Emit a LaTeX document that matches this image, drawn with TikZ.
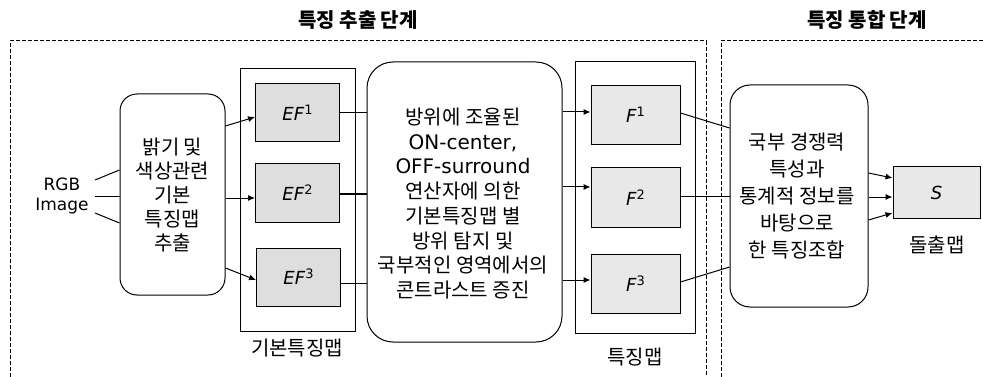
\documentclass[tikz,border=0pt]{standalone}
\usepackage{fontspec}
\setmainfont{Noto Sans CJK KR}
\newfontfamily\dv{DejaVu Sans}
\usetikzlibrary{arrows.meta}
\tikzset{
  every picture/.style={line width=1pt},
  txt/.style={inner sep=0pt, font=\fontsize{20}{24.5}\selectfont, align=center},
  rbox/.style={draw, rounded corners=#1, inner sep=0pt, align=center},
  mapbox/.style={draw, inner sep=0pt},
  efbox/.style={draw, fill=black!13, minimum width=84pt, minimum height=58pt, inner sep=0pt},
  fbox/.style={draw, fill=black!9, minimum width=89pt, minimum height=59pt, inner sep=0pt},
  arr/.style={-{Latex[length=7pt,width=6pt]}},
  zone/.style={dash pattern=on 4pt off 2pt, line width=1pt},
  ttl/.style={inner sep=0pt, font=\fontsize{20}{22}\selectfont\bfseries},
}
\newcommand{\efl}[1]{{\dv\fontsize{18}{18}\selectfont\textit{EF}\raisebox{6pt}{\fontsize{13}{13}\selectfont #1}}}
\newcommand{\fl}[1]{{\dv\fontsize{18}{18}\selectfont\textit{F}\raisebox{6pt}{\fontsize{13}{13}\selectfont #1}}}
\begin{document}
\begin{tikzpicture}[x=1pt,y=-1pt]
\useasboundingbox (0,0) rectangle (983,377);
% zones
\draw[zone] (10,377) -- (10,41) -- (706,41) -- (706,377);
\draw[zone] (983,41) -- (721,41) -- (721,377);
\node[ttl] (t1) at (358,20) {특징 추출 단계};
\node[ttl] (t2) at (867,20) {특징 통합 단계};
% input
\node[txt, font=\dv\fontsize{17}{19.5}\selectfont] (rgb) at (62,196) {RGB\\Image};
\coordinate (i1) at (95,180);
\coordinate (i2) at (95,196);
\coordinate (i3) at (95,213);
% left box
\node[rbox=17pt, minimum width=105pt, minimum height=201pt] (lb) at (172.5,194.5) {};
\node[txt, font=\fontsize{20}{24}\selectfont] (lbt) at (172.5,195) {밝기 및\\색상관련\\기본\\특징맵\\추출};
% EF group
\node[mapbox, minimum width=115pt, minimum height=262pt] (efg) at (297.5,200) {};
\node[efbox] (ef1) at (297.5,113) {\efl{1}};
\node[efbox] (ef2) at (297.5,193) {\efl{2}};
\node[efbox] (ef3) at (298.5,277) {\efl{3}};
\node[txt] (efgl) at (297,348) {기본특징맵};
% middle box
\node[rbox=26pt, minimum width=195pt, minimum height=280pt] (mb) at (464.5,202) {};
\node[txt, font=\fontsize{20}{24.7}\selectfont] (mbt) at (463,203.5) {방위에 조율된\\{\dv ON-center,}\\{\dv OFF-surround}\\연산자에 의한\\기본특징맵 별\\방위 탐지 및\\국부적인 영역에서의\\콘트라스트 증진};
% F group
\node[mapbox, minimum width=120pt, minimum height=271pt] (fg) at (635,197.5) {};
\node[fbox] (f1) at (635.5,115) {\fl{1}};
\node[fbox] (f2) at (635.5,197.5) {\fl{2}};
\node[fbox] (f3) at (635.5,284) {\fl{3}};
\node[txt] (fgl) at (635,357) {특징맵};
% right box
\node[rbox=20pt, minimum width=138pt, minimum height=222pt] (rb) at (799,196) {};
\node[txt, font=\fontsize{20}{27}\selectfont] (rbt) at (797,196) {국부 경쟁력\\특성과\\통계적 정보를\\바탕으로\\한 특징조합};
% saliency
\node[draw, fill=black!9, minimum width=87pt, minimum height=51pt, inner sep=0pt] (s) at (936.5,192.5) {{\dv\fontsize{18}{18}\selectfont\textit{S}}};
\node[txt] (sl) at (937,245) {돌출맵};
% connectors
\draw (i1) -- (lb.west |- 0,170);
\draw (i2) -- (lb.west |- 0,196);
\draw (i3) -- (lb.west |- 0,223);
\draw[arr] (lb.east |- 0,126) -- (ef1.west |- 0,117);
\draw[arr] (lb.east |- 0,198) -- (ef2.west |- 0,198);
\draw[arr] (lb.east |- 0,268) -- (ef3.west |- 0,280);
\draw (ef1.east |- 0,113) -- (mb.west |- 0,113);
\draw (ef2.east |- 0,194) -- (mb.west |- 0,194);
\draw (ef3.east |- 0,283) -- (mb.west |- 0,283);
\draw[arr] (mb.east |- 0,112) -- (f1.west |- 0,112);
\draw[arr] (mb.east |- 0,187) -- (f2.west |- 0,187);
\draw[arr] (mb.east |- 0,280) -- (f3.west |- 0,280);
\draw (f1.east |- 0,113) -- (rb.west |- 0,128);
\draw (f2.east |- 0,196) -- (rb.west |- 0,196);
\draw (f3.east |- 0,282) -- (rb.west |- 0,267);
\draw[arr] (rb.east |- 0,173) -- (s.west |- 0,178);
\draw[arr] (rb.east |- 0,197) -- (s.west |- 0,197);
\draw[arr] (rb.east |- 0,220) -- (s.west |- 0,213);
\end{tikzpicture}
\end{document}
